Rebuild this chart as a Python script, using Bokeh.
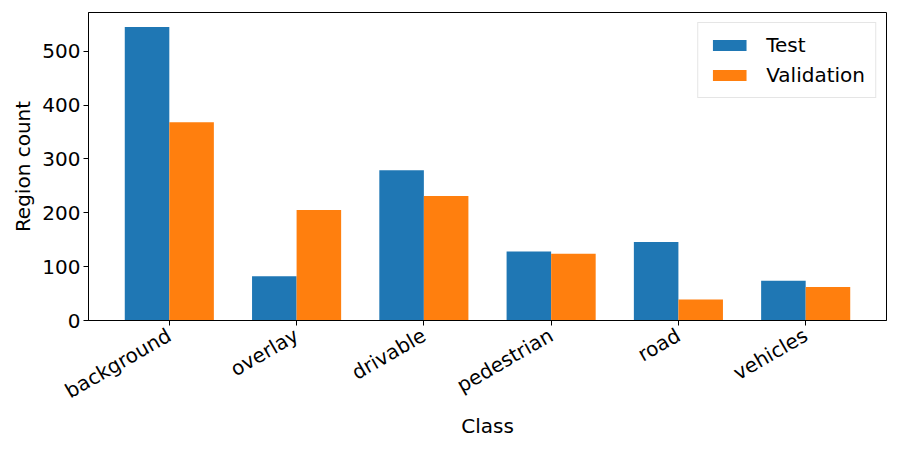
import math
from bokeh.plotting import figure
from bokeh.models import ColumnDataSource, FactorRange, Range1d, FixedTicker, Legend, LegendItem
from bokeh.transform import dodge
from bokeh.embed import file_html
from bokeh.resources import INLINE

classes = ["background", "overlay", "drivable", "pedestrian", "road", "vehicles"]
test_counts = [545, 82, 279, 128, 146, 74]
validation_counts = [368, 205, 231, 124, 39, 62]
y_ticks = [0, 100, 200, 300, 400, 500]

FONT = "DejaVu Sans"
FS = "20px"

src = ColumnDataSource(data=dict(cls=classes, test=test_counts, val=validation_counts))

p = figure(
    width=889, height=441,
    x_range=FactorRange(factors=classes, range_padding=0.135, range_padding_units="absolute"),
    y_range=Range1d(0, 572),
    output_backend="svg", toolbar_location=None,
    min_border_left=88, min_border_right=3, min_border_top=12, min_border_bottom=121,
)
p.outline_line_color = "black"
p.outline_line_width = 1
p.xgrid.visible = False
p.ygrid.visible = False

w = 0.35
r1 = p.vbar(x=dodge("cls", -w / 2, range=p.x_range), top="test", width=w, source=src,
            fill_color="#1f77b4", line_color=None)
r2 = p.vbar(x=dodge("cls", w / 2, range=p.x_range), top="val", width=w, source=src,
            fill_color="#ff7f0e", line_color=None)

for ax in (p.xaxis[0], p.yaxis[0]):
    ax.axis_line_color = "black"
    ax.major_tick_line_color = "black"
    ax.major_tick_in = 0
    ax.major_tick_out = 5
    ax.minor_tick_line_color = None
    ax.major_label_text_font = FONT
    ax.major_label_text_font_size = FS
    ax.major_label_text_color = "black"
    ax.axis_label_text_font = FONT
    ax.axis_label_text_font_size = FS
    ax.axis_label_text_font_style = "normal"
    ax.axis_label_text_color = "black"

p.yaxis.ticker = FixedTicker(ticks=y_ticks)
p.yaxis.axis_label = "Region count"
p.yaxis.axis_label_standoff = 4
p.yaxis.major_label_standoff = 3

p.xaxis.axis_label = "Class"
p.xaxis.major_label_orientation = math.pi / 6
p.xaxis.major_label_standoff = 8
p.xaxis.axis_label_standoff = -2

legend = Legend(items=[LegendItem(label="Test", renderers=[r1]),
                       LegendItem(label="Validation", renderers=[r2])],
                location="top_right")
legend.label_text_font = FONT
legend.label_text_font_size = FS
legend.label_text_color = "black"
legend.glyph_width = 42
legend.glyph_height = 14
legend.label_standoff = 16
legend.label_height = 24
legend.spacing = 6
legend.padding = 10
legend.margin = 10
legend.border_line_color = "#cccccc"
legend.border_line_width = 1
legend.background_fill_alpha = 0.8
p.add_layout(legend)

open("out.html", "w").write(file_html(p, INLINE))
